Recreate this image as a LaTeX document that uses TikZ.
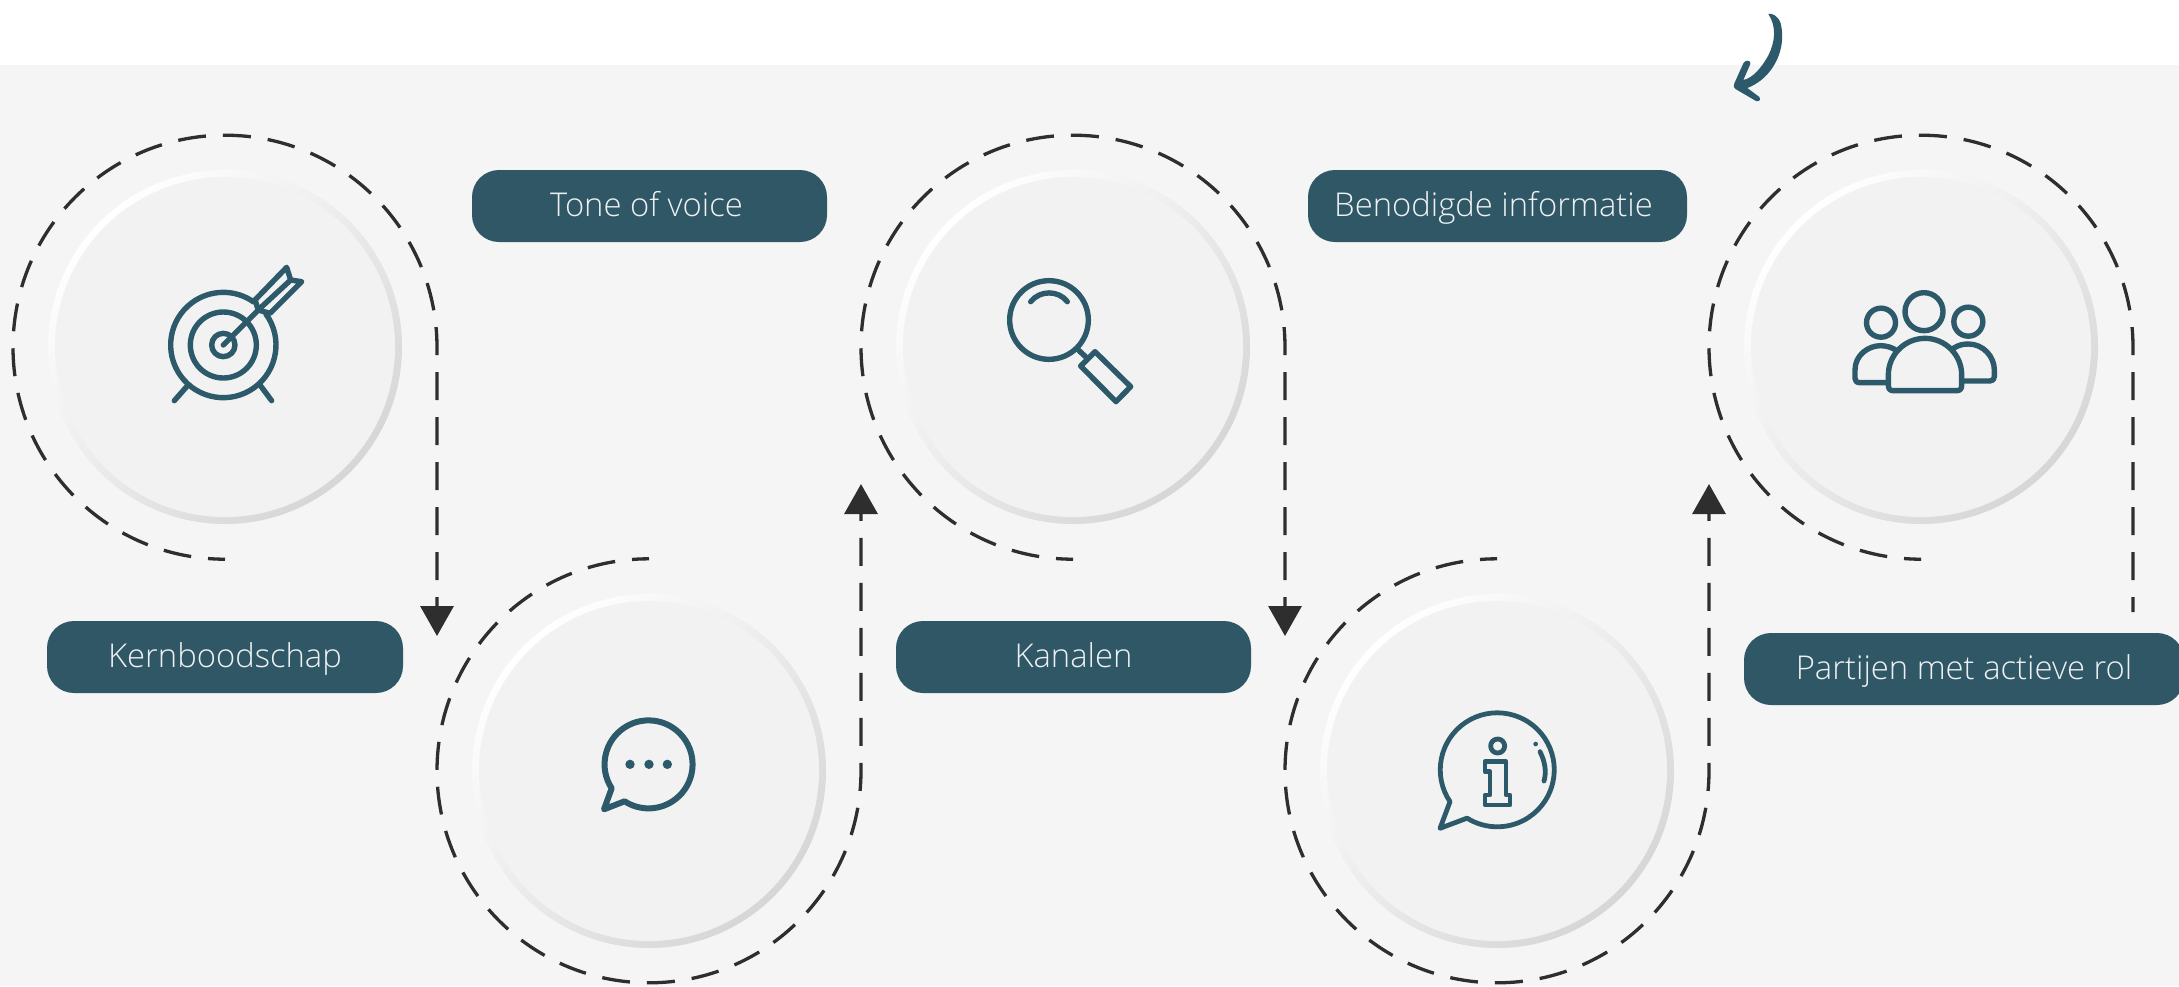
\documentclass[tikz,border=0pt]{standalone}
\usepackage{fontspec}
\setmainfont{Open Sans Light}
\usetikzlibrary{arrows.meta,shapes.misc}
\definecolor{pill}{HTML}{2F5766}
\definecolor{icon}{HTML}{2D5A6A}
\definecolor{dashc}{HTML}{2E2E2E}
\definecolor{bg}{HTML}{F5F5F5}
\definecolor{disc}{HTML}{F2F2F2}
\tikzset{
 pillbox/.style={fill=pill,rounded corners=27pt,minimum height=72pt,inner sep=0pt,text=white!92!pill,
   font=\fontsize{32.8}{33}\selectfont,text height=27pt,text depth=7pt},
 ringbox/.style={circle,inner sep=0pt,minimum size=354pt,top color=white,middle color=disc,bottom color=black!16,shading angle=45},
 discbox/.style={circle,inner sep=0pt,minimum size=340pt,fill=disc},
 orbitbox/.style={circle,inner sep=0pt,minimum size=424pt},
 dashline/.style={draw=dashc,line width=3.3pt,dash pattern=on 28pt off 17pt,dash phase=11pt},
 tipped/.style={-{Triangle[length=30pt,width=33pt,fill=dashc]}},
 ic/.style={draw=icon,line width=5.4pt,line cap=round,line join=round},
 icthin/.style={ic,line width=4.8pt},
 zoomed/.style={x=0.33333pt,y=-0.33333pt},
}
\begin{document}
\begin{tikzpicture}[x=1pt,y=-1pt]
\useasboundingbox (0,0) rectangle (2179,986);
\fill[bg] (0,65) rectangle (2179,986);
% rings
\foreach \n/\cx/\cy in {a/225/347,b/649/771,c/1073/347,d/1497/771,e/1921/347}{
  \node[ringbox] (ring\n) at (\cx,\cy) {};
  \node[discbox] (disc\n) at (ring\n) {};
  \node[orbitbox] (orbit\n) at (ring\n) {};
}
% connectors
\coordinate (tipa) at (437,636);
\coordinate (tipb) at (861,484);
\coordinate (tipc) at (1285,636);
\coordinate (tipd) at (1709,484);
\coordinate (ende) at (2133,612);
\draw[dashline,tipped] (orbita.south) arc[start angle=90,end angle=360,radius=212] -- (tipa);
\draw[dashline,tipped] (orbitb.north) arc[start angle=270,end angle=0,radius=212] -- (tipb);
\draw[dashline,tipped] (orbitc.south) arc[start angle=90,end angle=360,radius=212] -- (tipc);
\draw[dashline,tipped] (orbitd.north) arc[start angle=270,end angle=0,radius=212] -- (tipd);
\draw[dashline] (orbite.south) arc[start angle=90,end angle=360,radius=212] -- (ende);
% pills
\node[pillbox,minimum width=356pt] (kern) at (225,657) {Kernboodschap};
\node[pillbox,minimum width=355pt] (tone) at (649.5,206) {\hspace*{-6pt}Tone of voice};
\node[pillbox,minimum width=355pt] (kan) at (1073.5,657) {Kanalen};
\node[pillbox,minimum width=379pt] (ben) at (1497.5,206) {\hspace*{-8pt}Benodigde informatie};
\node[pillbox,minimum width=440pt] (part) at (1964,669) {Partijen met actieve rol};
% target icon
\begin{scope}[shift={(130,240)},zoomed]
 \draw[ic] (280,315) circle[radius=99];
 \draw[ic] (280,315) circle[radius=35];
 \draw[ic] (280,315) ++(324:158) arc[start angle=324,end angle=665,radius=158];
 \draw[ic] (280,315) -- (385,210);
 \draw[ic] (375,180) -- (470,82) -- (482,120) -- (515,125) -- (420,220) -- (385,210) -- cycle;
 \draw[ic] (390,205) -- (482,120);
 \draw[ic] (170,440) -- (133,482);
 \draw[ic] (390,435) -- (425,482);
\end{scope}
% magnifier
\begin{scope}[shift={(990,260)},zoomed]
 \draw[ic] (177,180) circle[radius=118];
 \draw[ic] (122,125) .. controls (150,90) and (205,90) .. (232,125);
 \draw[ic] (265,270) -- (292,295);
 \draw[ic] (315,275) -- (422,380) -- (378,425) -- (272,318) -- cycle;
\end{scope}
% people
\begin{scope}[shift={(1830,280)},zoomed]
 \draw[ic] (282,95) circle[radius=57];
 \draw[ic] (153,128) circle[radius=43.5];
 \draw[ic] (415,125) circle[radius=43.5];
 \draw[ic] (175,285) arc[start angle=180,end angle=360,radius=110] -- (395,315)
   .. controls (395,327) and (390,332) .. (380,332) -- (190,332)
   .. controls (180,332) and (175,327) .. (175,315) -- cycle;
 \draw[ic] (172,308) -- (90,308) .. controls (80,308) and (75,303) .. (75,295) -- (75,270)
   .. controls (75,225) and (115,197) .. (152,197) .. controls (170,197) and (188,203) .. (200,212);
 \draw[ic] (370,205) .. controls (385,195) and (400,192) .. (415,192)
   .. controls (460,192) and (493,230) .. (493,270) -- (493,290)
   .. controls (493,298) and (488,303) .. (480,303) -- (400,303);
\end{scope}
% chat
\begin{scope}[shift={(590,710)},zoomed]
 \draw[ic,line width=6pt] (65,235) arc[start angle=147,end angle=483,radius=132] -- (42,298) -- cycle;
 \foreach \dx in {120,177,232}{\fill[icon] (\dx,163) circle[radius=14];}
\end{scope}
% info
\begin{scope}[shift={(1430,700)},zoomed]
 \draw[icthin] (60,305) arc[start angle=146,end angle=482,radius=171] -- (30,385) -- cycle;
 \draw[icthin] (203,138) circle[radius=21];
 \draw[icthin] (165,185) -- (228,185) -- (228,285) -- (240,285) -- (240,315) -- (165,315) -- (165,285) -- (180,285) -- (180,215) -- (165,215) -- cycle;
 \fill[icon] (317,132) circle[radius=7];
 \draw[icthin] (330,155) .. controls (345,185) and (350,215) .. (342,243);
\end{scope}
% curved arrow
\begin{scope}[shift={(1700,0)},zoomed]
 \fill[icon] (205,42) .. controls (215,38) and (235,48) .. (242,70)
   .. controls (254,120) and (242,175) .. (207,217)
   .. controls (187,242) and (160,257) .. (142,264)
   -- (178,291) .. controls (184,300) and (176,306) .. (168,303)
   -- (108,268) .. controls (100,262) and (100,256) .. (103,250)
   -- (130,190) .. controls (136,178) and (154,180) .. (151,192)
   -- (130,240) .. controls (160,234) and (186,200) .. (204,168)
   .. controls (226,125) and (230,80) .. (205,42) -- cycle;
\end{scope}
\end{tikzpicture}
\end{document}
